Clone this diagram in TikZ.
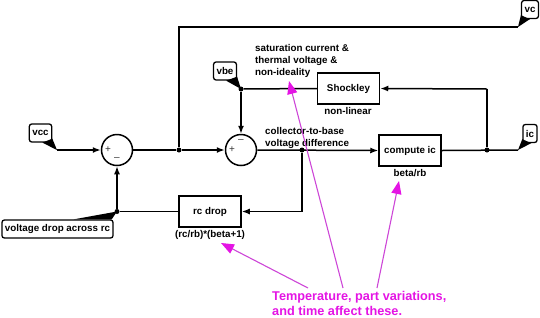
\documentclass[tikz,border=0pt]{standalone}
\usepackage{fontspec}
\setmainfont{Liberation Sans}
\usetikzlibrary{arrows.meta,calc}
\definecolor{mag}{RGB}{228,20,228}
\definecolor{magline}{RGB}{205,70,215}
\begin{document}
\begin{tikzpicture}[x=1pt,y=-1pt,
  font=\fontsize{9.8}{12}\selectfont\bfseries,
  wire/.style={line width=1.5pt},
  arr/.style={wire,-{Latex[length=8pt,width=6pt]}},
  blk/.style={draw,line width=1.5pt,minimum width=62pt,minimum height=31pt,inner sep=0pt},
  sumj/.style={draw,circle,line width=1.5pt,minimum size=31pt,inner sep=0pt},
  tag/.style={draw,rounded corners=2.5pt,line width=1.3pt,inner xsep=3pt,inner ysep=2pt,minimum height=18pt},
  jdot/.style={circle,fill,inner sep=0pt,minimum size=5pt},
  note/.style={align=left,inner sep=0pt},
  signlbl/.style={font=\fontsize{10}{10}\selectfont\mdseries,text=black!80,inner sep=0pt},
  hintarrow/.style={draw=magline,line width=1.1pt,-{Triangle[length=13pt,width=10pt,color=mag]}}
]
\useasboundingbox (0,0) rectangle (540,317);

% nodes
\node[tag] (vcc) at (40.5,133) {vcc};
\coordinate (vccT) at (57,150);
\node[sumj] (s1) at (117,150) {};
\node[sumj] (s2) at (241,150) {};
\node[jdot] (j1) at (179,150) {};
\node[jdot] (j2) at (302,150) {};
\node[jdot] (j3) at (487,150) {};
\node[jdot] (jvbe) at (241,89) {};
\node[jdot] (jrc) at (117,211.5) {};
\coordinate (vbeT) at (241,89);
\coordinate (vdropT) at (117,211.5);
\node[blk] (shock) at (348.5,88.5) {Shockley};
\node[blk] (comp) at (410,150.5) {compute ic};
\node[blk] (rcd) at (210,211.5) {rc drop};
\node[tag] (vbe) at (225,71) {vbe};
\node[tag] (vc) at (530,9.5) {vc};
\node[tag] (ic) at (530,133.5) {ic};
\node[tag] (vdrop) at (57.5,229) {voltage drop across rc};
\coordinate (vcT) at (518,27);
\coordinate (icT) at (518,150);
\coordinate (j3t) at (487,89);
\coordinate (topc) at (179,27);
\coordinate (j2b) at (302,211.5);

% signs
\node[signlbl] at ($(s1.center)+(-9,0)$) {+};
\node[signlbl] at ($(s1.center)+(0,9)$) {--};
\node[signlbl] at ($(s2.center)+(-9,0)$) {+};
\node[signlbl] at ($(s2.center)+(0,-9)$) {--};

% callout tails
\fill ($(vcc.south east)+(-10,0)$) -- (vccT) -- ($(vcc.south east)+(0,-4)$) -- cycle;
\fill ($(vbe.south east)+(-11,0)$) -- (vbeT) -- ($(vbe.south east)+(0,-4)$) -- cycle;
\fill ($(vc.south west)+(9,0)$) -- (vcT) -- ($(vc.south west)+(0,-4)$) -- cycle;
\fill ($(ic.south west)+(9,0)$) -- (icT) -- ($(ic.south west)+(0,-4)$) -- cycle;
\fill ($(vdrop.north east)+(-40,0)$) -- (vdropT) -- ($(vdrop.north east)+(-2,0)$) -- cycle;

% connectors
\draw[arr] (vccT) -- (s1.west);
\draw[wire] (s1.east) -- (j1);
\draw[arr] (j1) -- (s2.west);
\draw[arr] (s2.east) -- (comp.west);
\draw[wire] (comp.east) -- (icT);
\draw[wire] (j3) -- (j3t);
\draw[arr] (j3t) -- (shock.east);
\draw[wire] (shock.west) -- (jvbe);
\draw[arr] (jvbe) -- (s2.north);
\draw[wire] (j2) -- (j2b);
\draw[arr] (j2b) -- (rcd.east);
\draw[wire] (rcd.west) -- (jrc);
\draw[arr] (jrc) -- (s1.south);
\draw[wire] (j1) -- (topc) -- (vcT);

% labels
\node at (348,111) {non-linear};
\node at (410,173) {beta/rb};
\node at (210,235) {(rc/rb)*(beta+1)};
\node[note,anchor=west] at (255,61) {saturation current \&\\thermal voltage \&\\non-ideality};
\node[note,anchor=west] at (265,138) {collector-to-base\\voltage difference};

% magenta annotation
\node[note,text=mag,font=\fontsize{12.7}{15}\selectfont\bfseries,anchor=west] (temp) at (272,303.5) {Temperature, part variations,\\and time affect these.};
\coordinate (h1) at (343,288);
\coordinate (h2) at (377,288);
\coordinate (h3) at (308,288);
\coordinate (t1) at (289,81);
\coordinate (t2) at (399,181);
\coordinate (t3) at (221,243);
\draw[hintarrow] (h1) -- (t1);
\draw[hintarrow] (h2) -- (t2);
\draw[hintarrow] (h3) -- (t3);
\end{tikzpicture}
\end{document}
